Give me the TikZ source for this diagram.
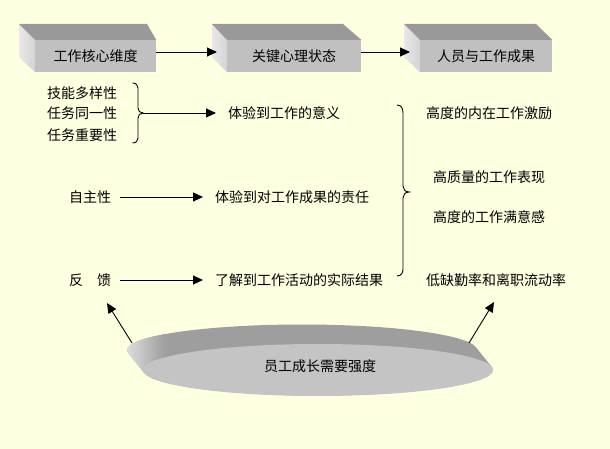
\documentclass[tikz,border=0pt]{standalone}
\usepackage{fontspec}
\newfontfamily\cjk{Noto Sans CJK SC}
\usetikzlibrary{arrows.meta,calc}
\definecolor{bg}{RGB}{255,255,225}
\definecolor{topgray}{RGB}{153,153,153}
\definecolor{frontgray}{RGB}{192,192,192}
\definecolor{sidelight}{RGB}{232,232,232}
\definecolor{sidedark}{RGB}{212,212,212}
\definecolor{discband}{RGB}{158,158,158}
\definecolor{disclight}{RGB}{222,222,222}
\definecolor{discfront}{RGB}{196,196,196}
\begin{document}
\begin{tikzpicture}[x=1pt,y=-1pt,
  txt/.style={font=\cjk\fontsize{14}{16}\selectfont, inner sep=0pt, text=black},
  frontbox/.style={txt, fill=frontgray, minimum height=32pt, inner sep=0pt},
  arr/.style={-{Triangle[length=10pt,width=9pt]}, line width=0.9pt},
  bracepath/.style={line width=0.9pt}]
\fill[bg] (0,0) rectangle (610,449);
\useasboundingbox (0,0) rectangle (610,449);

% ---- 3D boxes ----
\node[frontbox, minimum width=121pt] (b1) at (95.5,56) {工作核心维度};
\shade[left color=sidelight, right color=sidedark] (19,24) -- (b1.north west) -- (b1.south west) -- (19,57) -- cycle;
\fill[topgray] (19,24) -- (147,24) -- (b1.north east) -- (b1.north west) -- cycle;

\node[frontbox, minimum width=134pt] (b2) at (294,56) {关键心理状态};
\shade[left color=sidelight, right color=sidedark] (212,24) -- (b2.north west) -- (b2.south west) -- (212,57) -- cycle;
\fill[topgray] (212,24) -- (343,24) -- (b2.north east) -- (b2.north west) -- cycle;

\node[frontbox, minimum width=132pt] (b3) at (486,56) {人员与工作成果};
\shade[left color=sidelight, right color=sidedark] (404,24) -- (b3.north west) -- (b3.south west) -- (404,57) -- cycle;
\fill[topgray] (404,24) -- (536,24) -- (b3.north east) -- (b3.north west) -- cycle;

\coordinate (t2) at (217,52);
\coordinate (t3) at (410,52);
\draw[arr] (b1.east |- t2) -- (t2);
\draw[arr] (b2.east |- t3) -- (t3);

% ---- left column ----
\node[txt, anchor=west] (s1) at (47,93) {技能多样性};
\node[txt, anchor=west] (s2) at (47,113) {任务同一性};
\node[txt, anchor=west] (s3) at (47,135) {任务重要性};
\node[txt, anchor=west] (a1) at (69,197) {自主性};
\node[txt, anchor=west] (a2) at (69,280) {反　馈};

% ---- middle column ----
\node[txt, anchor=west] (m1) at (228,113) {体验到工作的意义};
\node[txt, anchor=west] (m2) at (215,197) {体验到对工作成果的责任};
\node[txt, anchor=west] (m3) at (215,280) {了解到工作活动的实际结果};

% ---- right column ----
\node[txt, anchor=west] (r1) at (426,113) {高度的内在工作激励};
\node[txt, anchor=west] (r2) at (433,177) {高质量的工作表现};
\node[txt, anchor=west] (r3) at (433,217) {高度的工作满意感};
\node[txt, anchor=west] (r4) at (426,280) {低缺勤率和离职流动率};

% ---- small brace ----
\coordinate (br1tip) at (143,113);
\draw[bracepath] (132.5,83) .. controls (136,83) and (138,85) .. (138,88)
  -- (138,108) .. controls (138,111) and (140,113) .. (br1tip)
  .. controls (140,113) and (138,115) .. (138,118)
  -- (138,138) .. controls (138,141) and (136,143) .. (132.5,143);
\draw[arr] (br1tip) -- ([xshift=-12pt]m1.west);

\draw[arr] ([xshift=9pt]a1.east) -- ([xshift=-12pt]m2.west);
\draw[arr] ([xshift=9pt]a2.east) -- ([xshift=-12pt]m3.west);

% ---- big brace ----
\coordinate (br2tip) at (409,192);
\draw[bracepath] (397,105) .. controls (401,105) and (403,108) .. (403,113)
  -- (403,186) .. controls (403,189) and (405,192) .. (br2tip)
  .. controls (405,192) and (403,195) .. (403,198)
  -- (403,269) .. controls (403,273) and (401,276) .. (397,276);

% ---- disc ----
\coordinate (dback) at (302,350);
\coordinate (dfront) at (318,370);
\begin{scope}
  \clip \foreach \i in {0,...,24} { ($(dback)!\i/24!(dfront)$) ellipse [x radius=175, y radius=25.5] };
  \fill[discband] (100,300) rectangle (520,420);
  \shade[left color=disclight, right color=discband] (126,300) rectangle (165,420);
\end{scope}
\fill[discfront] (dfront) ellipse [x radius=175, y radius=26];
\node[txt] (disc) at (320,366) {员工成长需要强度};

\coordinate (dl) at (132,343);
\coordinate (dlt) at (107,303);
\coordinate (dr) at (469,343);
\coordinate (drt) at (494,302);
\draw[arr] (dl) -- (dlt);
\draw[arr] (dr) -- (drt);
\end{tikzpicture}
\end{document}
